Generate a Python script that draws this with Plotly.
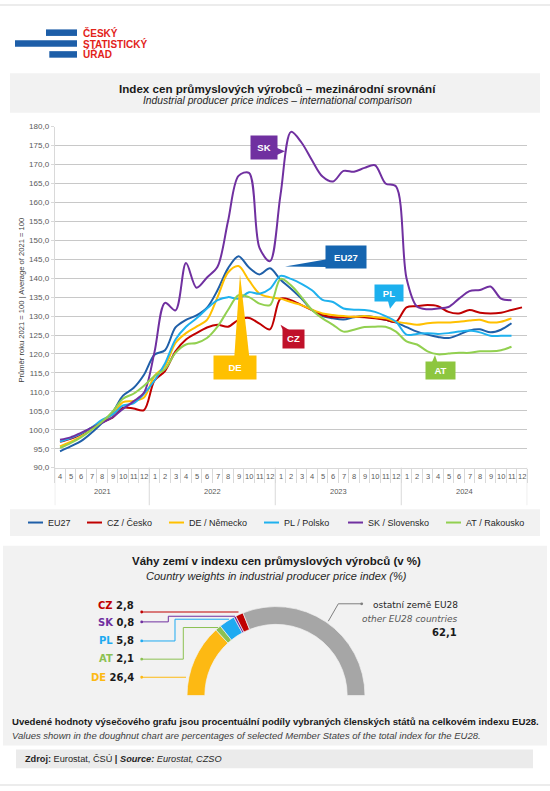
import plotly.graph_objects as go

W, H = 550, 791

# ------------------------------------------------------------------ data
month_labels = [str(m) for m in range(4, 13)] + [str(m) for m in range(1, 13)] * 3
years = ["2021", "2022", "2023", "2024"]
months_per_year = [9, 12, 12, 12]

series_names = ["EU27", "CZ / Česko", "DE / Německo", "PL / Polsko", "SK / Slovensko", "AT / Rakousko"]
series_codes = ["EU27", "CZ", "DE", "PL", "SK", "AT"]
series_colors = ["#1f5fa8", "#c00000", "#ffc000", "#1fb1ee", "#7030a0", "#92d050"]

eu27 = [94.3, 95.6, 97.0, 99.2, 101.8, 104.6, 109.0, 111.0, 114.5,
        119.8, 121.0, 127.0, 129.0, 130.2, 132.2, 136.8, 142.6, 145.8, 142.8, 141.0, 142.6,
        139.6, 137.2, 134.6, 131.6, 130.0, 129.4, 129.1, 129.7, 130.0, 129.7, 129.0, 128.3,
        127.1, 125.9, 125.1, 124.5, 124.2, 125.1, 126.2, 126.5, 125.7, 126.4, 128.1]
cz = [96.8, 97.6, 98.8, 100.5, 102.0, 103.2, 105.8, 105.6, 105.2,
      113.0, 115.5, 120.7, 123.8, 125.5, 127.0, 127.7, 127.2, 129.0, 129.5, 128.0, 126.5,
      134.6, 134.2, 132.9, 131.6, 130.3, 129.7, 129.7, 129.8, 129.7, 129.4, 129.0, 128.5,
      132.3, 132.6, 132.9, 132.6, 131.1, 130.7, 131.6, 130.9, 130.7, 130.9, 131.6, 132.3]
de = [95.6, 96.8, 98.2, 100.0, 102.3, 104.0, 107.3, 107.6, 108.5,
      114.2, 116.8, 122.9, 125.5, 127.2, 129.0, 135.0, 141.5, 143.2, 139.4, 135.9, 135.0,
      134.6, 133.7, 132.9, 131.7, 130.7, 130.3, 130.0, 129.8, 130.0, 129.7, 129.4, 128.5,
      128.1, 127.7, 128.1, 128.3, 128.3, 128.5, 128.8, 129.0, 128.3, 128.5, 129.4]
pl = [96.9, 97.8, 99.0, 100.6, 102.6, 104.0, 106.4, 107.0, 109.5,
      113.0, 117.5, 123.8, 127.2, 129.4, 132.0, 134.2, 135.0, 134.6, 136.3, 135.9, 137.2,
      140.6, 139.8, 138.5, 136.8, 134.3, 133.7, 132.0, 131.7, 131.6, 131.1, 130.0, 128.5,
      125.1, 125.3, 125.5, 125.3, 125.5, 125.9, 126.2, 125.7, 124.8, 124.8, 124.8]
sk = [97.4, 98.0, 99.2, 100.5, 101.8, 103.3, 105.5, 107.5, 109.8,
      120.5, 133.5, 131.5, 144.0, 137.5, 140.2, 143.0, 155.0, 167.0, 167.8, 148.0, 144.5,
      162.0, 178.6, 175.8, 171.1, 166.8, 165.5, 168.3, 168.1, 169.1, 169.8, 165.0, 164.2,
      140.0, 132.5, 131.8, 132.0, 132.4, 134.6, 136.6, 136.9, 137.8, 134.6, 134.2]
at = [95.2, 96.5, 98.0, 100.0, 102.1, 104.8, 108.2, 109.5, 111.6,
      114.2, 116.0, 120.3, 122.5, 122.9, 124.2, 127.2, 131.6, 135.5, 135.0, 133.3, 132.9,
      139.8, 138.1, 135.0, 131.6, 129.4, 127.7, 125.9, 126.4, 127.1, 127.2, 127.2, 125.9,
      123.3, 122.5, 120.7, 119.9, 120.1, 120.3, 120.3, 120.7, 120.7, 121.0, 121.9]
series_values = [eu27, cz, de, pl, sk, at]

weight_codes = ["DE", "AT", "PL", "SK", "CZ"]          # clockwise order in the doughnut
weight_values = [26.4, 2.1, 5.8, 0.8, 2.8]
weight_colors = ["#fdb913", "#8cc152", "#1eaaf1", "#7030a0", "#c00000"]
weight_other = 62.1
other_color = "#a6a6a6"

# ------------------------------------------------------------------ helpers
BASE = "Liberation Sans, Arial, sans-serif"
WIDE = "DejaVu Sans, Verdana, sans-serif"


def fx(x):
    return x / W


def fy(y):
    return 1 - y / H


shapes, annotations = [], []


def rect(x0, y0, x1, y1, color, layer="below"):
    shapes.append(dict(type="rect", xref="paper", yref="paper", x0=fx(x0), x1=fx(x1),
                       y0=fy(y1), y1=fy(y0), fillcolor=color, line=dict(width=0), layer=layer))


def poly(points, fill=None, line_color=None, lw=1.0):
    path = "M" + "L".join(f"{fx(x):.5f},{fy(y):.5f}" for x, y in points)
    if fill:
        path += "Z"
    shapes.append(dict(type="path", xref="paper", yref="paper", path=path,
                       fillcolor=fill if fill else "rgba(0,0,0,0)",
                       line=dict(color=line_color if line_color else "rgba(0,0,0,0)",
                                 width=lw if line_color else 0), layer="above"))


def dot(x, y, r, color):
    shapes.append(dict(type="circle", xref="paper", yref="paper", x0=fx(x - r), x1=fx(x + r),
                       y0=fy(y + r), y1=fy(y - r), fillcolor=color, line=dict(width=0)))


def label(x, y, s, size, color="#262626", anchor="center", family=BASE, angle=0):
    annotations.append(dict(xref="paper", yref="paper", x=fx(x), y=fy(y), text=s, showarrow=False,
                            xanchor=anchor, yanchor="middle", textangle=angle,
                            font=dict(size=size, color=color, family=family)))


# plot area geometry (px)
PX0, PX1, PY0, PY1 = 54.75, 527.25, 124, 469
n_months = len(month_labels)

# ------------------------------------------------------------------ backgrounds
rect(0, 0, 550, 2, "#ececec")
rect(10, 70, 540, 110, "#f2f2f2")
rect(10, 511, 540, 538, "#f2f2f2")
rect(3, 548, 547, 750, "#f2f2f2")
rect(16, 754, 533, 773, "#ebebeb")
rect(0, 789, 550, 791, "#ececec")

# logo
LOGO_BLUE = "#1d5ea8"
LOGO_RED = "#e2231a"
rect(46, 25.7, 77, 32.3, LOGO_BLUE, layer="above")
rect(15, 36.7, 77, 43.3, LOGO_BLUE, layer="above")
rect(49.3, 47.7, 77, 54.3, LOGO_BLUE, layer="above")
for txt, yy in zip(["ČESKÝ", "STATISTICKÝ", "ÚŘAD"], [29.5, 40.5, 51.0]):
    label(81.0, yy, f"<b>{txt}</b>", 10, LOGO_RED, anchor="left",
          family="Liberation Sans Narrow, Liberation Sans, Arial Narrow, sans-serif")

# titles
label(277, 85, "<b>Index cen průmyslových výrobců – mezinárodní srovnání</b>", 11.6, "#1a1a1a")
label(277, 97.5, "<i>Industrial producer price indices – international comparison</i>", 10.3, "#262626")

# y axis title
label(22, 300, "Průměr roku 2021 = 100 | Average of 2021 = 100", 7.6, "#404040", angle=-90)

# month labels and year separators
for i, m in enumerate(month_labels):
    annotations.append(dict(xref="x", yref="paper", x=i, y=fy(478), text=m, showarrow=False,
                            xanchor="center", yanchor="middle",
                            font=dict(size=7.5, color="#595959", family=BASE)))
start = 0
bounds = [-0.5]
for yr, cnt in zip(years, months_per_year):
    annotations.append(dict(xref="x", yref="paper", x=start + (cnt - 1) / 2, y=fy(493), text=yr,
                            showarrow=False, xanchor="center", yanchor="middle",
                            font=dict(size=7.5, color="#595959", family=BASE)))
    start += cnt
    bounds.append(start - 0.5)
for b in bounds:
    shapes.append(dict(type="line", xref="x", yref="paper", x0=b, x1=b, y0=fy(469), y1=fy(507),
                       line=dict(color="#d9d9d9", width=1)))

# ------------------------------------------------------------------ line traces
fig = go.Figure()
for name, vals, col in zip(series_names, series_values, series_colors):
    fig.add_trace(go.Scatter(x=list(range(len(vals))), y=vals, mode="lines", name=name,
                             line=dict(color=col, width=2, shape="spline", smoothing=0.9),
                             hoverinfo="skip", showlegend=False))

# callouts (box centre px, size px, pointer triangle px)
callouts = [
    ("SK", "#7030a0", (264, 145.5), (26, 23), [(276.5, 145.5), (276.5, 153), (285, 149)]),
    ("EU27", "#1565b0", (346.3, 256), (40, 22), [(327, 258.3), (327, 266), (285, 265.5)]),
    ("PL", "#1cb0ee", (388.8, 292.8), (28, 16), [(388, 300.5), (396, 300.5), (390, 308.3)]),
    ("CZ", "#c0112a", (293.7, 338.7), (21, 17.5), [(283.3, 331), (290, 330.2), (280.5, 324.5)]),
    ("DE", "#ffc000", (235.2, 367.8), (42, 22.5), [(234.3, 357), (249.3, 357), (240, 273.3)]),
    ("AT", "#8dc63f", (440, 370.8), (29, 16.5), [(431.7, 363), (437.5, 363), (435, 355)]),
]
for txt, col, (cx, cy), (bw, bh), tri in callouts:
    poly(tri, fill=col)
    annotations.append(dict(xref="paper", yref="paper", x=fx(cx), y=fy(cy), text=f"<b>{txt}</b>",
                            showarrow=False, xanchor="center", yanchor="middle", width=bw, height=bh,
                            bgcolor=col, borderpad=0, align="center", valign="middle",
                            font=dict(size=9.5, color="white", family=BASE)))

# ------------------------------------------------------------------ manual legend
legend_x = [28, 87, 169, 264, 348, 446]
for lx, name, col in zip(legend_x, series_names, series_colors):
    shapes.append(dict(type="line", xref="paper", yref="paper", x0=fx(lx), x1=fx(lx + 15),
                       y0=fy(524.5), y1=fy(524.5), line=dict(color=col, width=2)))
    label(lx + 17.5, 524.5, name, 9, "#262626", anchor="left")

# ------------------------------------------------------------------ doughnut
label(276, 563, "<b>Váhy zemí v indexu cen průmyslových výrobců (v %)</b>", 11.5, "#1a1a1a")
label(276, 579, "<i>Country weights in industrial producer price index (%)</i>", 11, "#262626")

PIE_CX, PIE_CY, PIE_R = 276, 699.5, 90
pie_vals = weight_values + [weight_other]
pie_cols = weight_colors + [other_color]
fig.add_trace(go.Pie(values=pie_vals + [sum(pie_vals)],
                     marker=dict(colors=pie_cols + ["rgba(0,0,0,0)"],
                                 line=dict(color="#f2f2f2", width=[0.7] * len(pie_vals) + [0])),
                     hole=0.8, sort=False, direction="clockwise", rotation=-90,
                     textinfo="none", hoverinfo="skip", showlegend=False,
                     domain=dict(x=[fx(PIE_CX - PIE_R), fx(PIE_CX + PIE_R)],
                                 y=[fy(PIE_CY + PIE_R), fy(PIE_CY - PIE_R)])))

code_color = dict(zip(weight_codes, weight_colors))
code_value = dict(zip(weight_codes, weight_values))
label_rows = {"CZ": 608.3, "SK": 625.7, "PL": 644.3, "AT": 662.3, "DE": 681.0}
leaders = {
    "CZ": [(141.7, 615), (238.5, 615)],
    "SK": [(141.7, 625), (168.3, 625), (168.3, 619.3), (235, 619.3)],
    "PL": [(141.7, 644.3), (175, 644.3), (175, 622.3), (229, 622.3)],
    "AT": [(141.7, 662.7), (183.3, 662.7), (183.3, 630.7), (218, 630.7)],
    "DE": [(141.7, 681), (186, 681)],
}
for code, yy in label_rows.items():
    val = f"{code_value[code]:.1f}".replace(".", ",")
    label(135.5, yy, f"<b><span style='color:{code_color[code]}'>{code}</span> {val}</b>", 10,
          "#1a1a1a", anchor="right", family=WIDE)
    poly(leaders[code], line_color=code_color[code], lw=1)
    dot(leaders[code][0][0], leaders[code][0][1], 1.4, code_color[code])

poly([(361.7, 606.7), (338.3, 606.7), (328.3, 624.3)], line_color="#7f7f7f", lw=1)
dot(361.7, 606.7, 1.4, "#7f7f7f")
label(459.5, 607.5, "ostatní země EU28", 9, "#262626", anchor="right", family=WIDE)
label(459.5, 621.7, "<i>other EU28 countries</i>", 9, "#595959", anchor="right", family=WIDE)
label(459, 636, "<b>" + f"{weight_other:.1f}".replace(".", ",") + "</b>", 10, "#1a1a1a",
      anchor="right", family=WIDE)

# ------------------------------------------------------------------ footer
label(10, 725.5, "<b>Uvedené hodnoty výsečového grafu jsou procentuální podíly vybraných členských "
      "států na celkovém indexu EU28.</b>", 9.6, "#1a1a1a", anchor="left")
label(10, 739.5, "<i>Values shown in the doughnut chart are percentages of selected Member States of "
      "the total index for the EU28.</i>", 9.5, "#404040", anchor="left")
label(23, 764, "<b>Zdroj:</b> Eurostat, ČSÚ <b>|</b> <b><i>Source:</i></b> <i>Eurostat, CZSO</i>",
      9.2, "#262626", anchor="left")

# ------------------------------------------------------------------ layout
fig.update_layout(
    width=W, height=H, margin=dict(l=0, r=0, t=0, b=0),
    paper_bgcolor="white", plot_bgcolor="white",
    separators=", ",
    font=dict(family=BASE, color="#262626"),
    shapes=shapes, annotations=annotations,
    xaxis=dict(domain=[fx(PX0), fx(PX1)], range=[-0.5, n_months - 0.5],
               tickmode="array", tickvals=[i - 0.5 for i in range(n_months + 1)],
               ticktext=[""] * (n_months + 1), ticks="outside", ticklen=14,
               tickcolor="#d9d9d9", tickwidth=1, showgrid=False, zeroline=False,
               showline=True, linecolor="#d9d9d9", linewidth=1, fixedrange=True),
    yaxis=dict(domain=[fy(PY1), fy(PY0)], range=[90, 180], tick0=90, dtick=5,
               tickformat=".1f", showgrid=True, gridcolor="#c8c8c8", gridwidth=1.2,
               zeroline=False, showline=True, linecolor="#d9d9d9", linewidth=1,
               ticks="outside", ticklen=3, tickcolor="#d9d9d9",
               tickfont=dict(size=8, color="#595959"), fixedrange=True),
)

fig.write_html("out.html", config={"displayModeBar": False},
               post_script="document.body.style.margin='0';")
